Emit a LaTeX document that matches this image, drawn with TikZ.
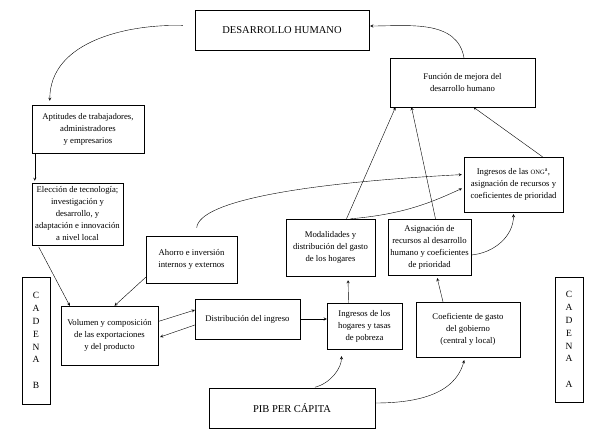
\documentclass[tikz,border=0pt]{standalone}
\usepackage{fontspec}
\setmainfont{Liberation Serif}
\tikzset{bx/.style  = {draw, thin, align=center, inner sep=0pt, font=\fontsize{8.7}{12}\selectfont},
         big/.style = {draw, thin, inner sep=0pt, font=\fontsize{10.5}{12}\selectfont},
         cad/.style = {draw, thin, align=center, inner sep=0pt, minimum width=28pt, font=\fontsize{9.5}{12.9}\selectfont}}

\begin{document}
\begin{tikzpicture}[x=1pt, y=-1pt, >=stealth]
    \useasboundingbox (0,0) rectangle (595,442);
    \node[big, minimum width=174pt, minimum height=40pt] (dh) at (282,30) {DESARROLLO HUMANO};
    \node[bx, minimum width=145pt, minimum height=49pt] (fun) at (462.5,82.5) {Función de mejora del\\desarrollo humano};
    \node[bx, minimum width=99pt, minimum height=55pt] (ong) at (513.5,184.5) {Ingresos de las {\fontsize{6.5}{12}\selectfont ONG}\textsuperscript{a},\\asignación de recursos y\\coeficientes de prioridad};
    \node[bx, minimum width=112pt, minimum height=48pt] (apt) at (88,129) {Aptitudes de trabajadores,\\administradores\\y empresarios};
    \node[bx, minimum width=91pt, minimum height=62pt] (ele) at (77.5,214) {Elección de tecnología;\\investigación y\\desarrollo, y\\adaptación e innovación\\a nivel local};
    \node[bx, minimum width=91pt, minimum height=47pt] (aho) at (191.5,259.5) {Ahorro e inversión\\internos y externos};
    \node[bx, minimum width=89pt, minimum height=57pt] (mod) at (330.5,247.5) {Modalidades y\\distribución del gasto\\de los hogares};
    \node[bx, minimum width=83pt, minimum height=56pt] (asi) at (429.5,247) {Asignación de\\recursos al desarrollo\\humano y coeficientes\\de prioridad};
    \node[bx, minimum width=97pt, minimum height=59pt] (vol) at (109.5,335.5) {Volumen y composición\\de las exportaciones\\y del producto};
    \node[bx, minimum width=105pt, minimum height=40pt] (dis) at (247.5,319) {Distribución del ingreso};
    \node[bx, minimum width=75pt, minimum height=46pt] (ing) at (364.5,326) {Ingresos de los\\hogares y tasas\\de pobreza};
    \node[bx, minimum width=104pt, minimum height=55pt] (coe) at (468,329.5) {Coeficiente de gasto\\del gobierno\\(central y local)};
    \node[big, minimum width=166pt, minimum height=40pt] (pib) at (292,408) {PIB PER CÁPITA};
    \node[cad, minimum height=127pt] (cb) at (36,340.5) {C\\A\\D\\E\\N\\A\\[12.9pt]B};
    \node[cad, minimum height=125pt] (ca) at (569,339.5) {C\\A\\D\\E\\N\\A\\[12.9pt]A};

    % cadena B
    \draw[->, shorten <=12pt, shorten >=4pt] ([yshift=4pt]dh.west) to[out=178, in=90] ([xshift=18pt]apt.north west);
    \draw[->, shorten >=2pt] ([xshift=3pt]apt.south west) -- ([xshift=3pt]ele.north west);
    \draw[->, shorten <=2pt] ([xshift=6pt]ele.south west) -- ([xshift=9pt]vol.north west);
    \draw[->] ([yshift=6pt]aho.south west) -- ([xshift=5pt]vol.north);
    \draw[->] ([yshift=14pt]vol.east) -- ([yshift=9pt]dis.west);
    \draw[->] ([yshift=-6pt]dis.west) -- ([xshift=2pt, yshift=-1.5pt]vol.east);
    % cadena A
    \draw[->] (dis.east) -- (dis.east -| ing.west);
    \draw[->, shorten >=4pt] ([xshift=-16pt]ing.north) -- ([xshift=17.5pt]mod.south);
    \draw[->, shorten >=3pt] ([xshift=-25pt]coe.north) -- ([xshift=7pt]asi.south);
    \draw[->, shorten <=2pt, shorten >=7pt] ([xshift=21pt]pib.north) to[out=15, in=-90] ([xshift=-23pt]ing.south);
    \draw[->, shorten >=3pt] ([yshift=5pt]pib.east) to[out=0, in=-105] ([xshift=-3pt]coe.south);
    \draw[->] ([xshift=16pt]mod.north) -- ([xshift=-67pt]fun.south);
    \draw[->] ([xshift=6pt]asi.north) -- ([xshift=-51pt]fun.south);
    \draw[->] ([xshift=29pt]ong.north) -- ([xshift=11pt]fun.south);
    \draw[->, shorten >=1pt] ([xshift=1.5pt]fun.north) to[out=100, in=0] ([yshift=4pt]dh.east);
    \draw[->, shorten <=8pt, shorten >=2pt] ([xshift=4.5pt]aho.north) to[out=85, in=183, out distance=35pt, in distance=160pt] ([yshift=10pt]ong.west);
    \draw[->, shorten >=2pt] ([xshift=20pt]mod.north) to[out=5, in=205, out distance=50pt, in distance=40pt] ([yshift=-3pt]ong.west);
    \draw[->, shorten >=2pt] ([yshift=-8pt]asi.east) to[out=5, in=-90] (ong.south);
\end{tikzpicture}
\end{document}
